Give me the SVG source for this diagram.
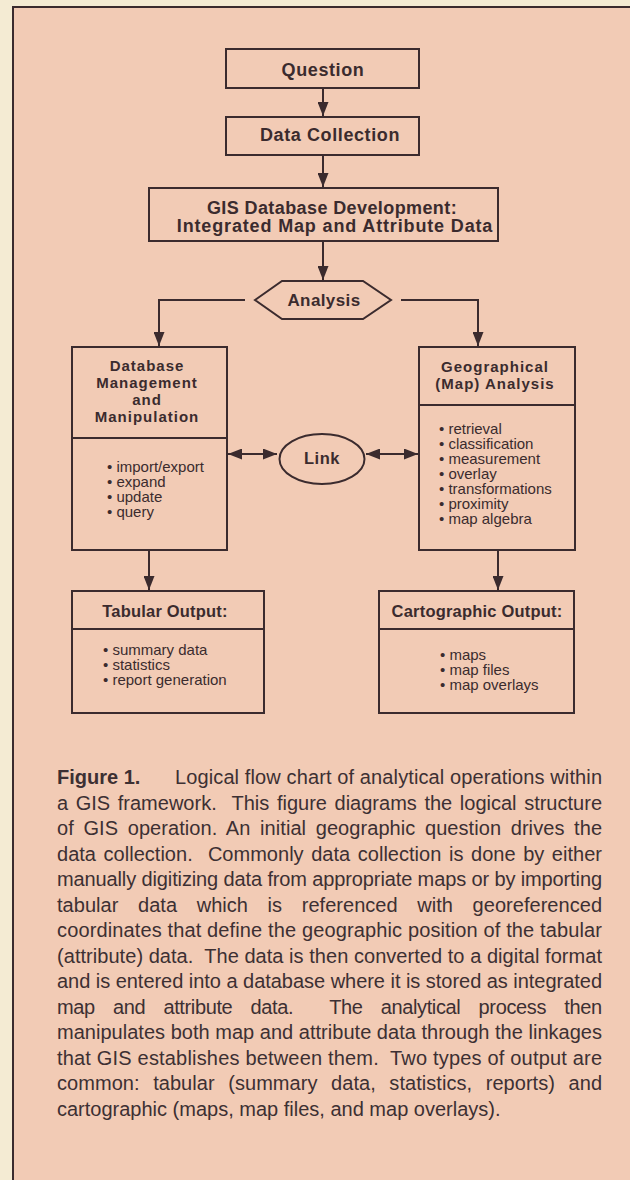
<svg xmlns="http://www.w3.org/2000/svg" width="630" height="1180" viewBox="0 0 630 1180">
<style>
.box{stroke:#3b2b2e;stroke-width:2;fill:none}
.con{stroke:#3b2b2e;stroke-width:2;fill:none}
text{fill:#3b2b2e;font-family:"Liberation Sans",Arial,Helvetica,sans-serif}
.t{font-size:18px;font-weight:bold;letter-spacing:0.6px;text-anchor:middle}
.h{font-size:15px;font-weight:bold;letter-spacing:1px;text-anchor:middle}
.o{font-size:16.5px;font-weight:bold;letter-spacing:0.2px;text-anchor:middle}
.li{font-size:15px}
.cap{font-size:20px;fill:#3d3033}
.capb{font-size:20px;font-weight:bold;fill:#3d3033}
</style>
<defs>
<marker id="ah" viewBox="0 0 14 11" markerWidth="14" markerHeight="11" refX="14" refY="5.5" markerUnits="userSpaceOnUse" orient="auto-start-reverse">
<path d="M0,0 L14,5.5 L0,11 Z" fill="#3b2b2e"/>
</marker>
</defs>
<rect x="0" y="0" width="630" height="1180" fill="#f4ebd3"/>
<rect x="13" y="7" width="640" height="1200" fill="#f2cbb5" stroke="#3b2b2e" stroke-width="2"/>

<g id="connectors">
<line class="con" x1="323" y1="88" x2="323" y2="116" marker-end="url(#ah)"/>
<line class="con" x1="323" y1="155" x2="323" y2="187" marker-end="url(#ah)"/>
<line class="con" x1="323" y1="241" x2="323" y2="280" marker-end="url(#ah)"/>
<path class="con" d="M245,300 H159 V346" marker-end="url(#ah)"/>
<path class="con" d="M401,300 H478 V346" marker-end="url(#ah)"/>
<line class="con" x1="228" y1="454" x2="277" y2="454" marker-start="url(#ah)" marker-end="url(#ah)"/>
<line class="con" x1="366" y1="454" x2="418" y2="454" marker-start="url(#ah)" marker-end="url(#ah)"/>
<line class="con" x1="149" y1="550" x2="149" y2="590" marker-end="url(#ah)"/>
<line class="con" x1="498" y1="550" x2="498" y2="590" marker-end="url(#ah)"/>
</g>

<g id="question">
<rect class="box" x="226" y="49" width="193" height="39"/>
<text class="t" x="323" y="76">Question</text>
</g>

<g id="data-collection">
<rect class="box" x="226" y="117" width="193" height="38"/>
<text class="t" x="330" y="141">Data Collection</text>
</g>

<g id="gis-database">
<rect class="box" x="149" y="188" width="349" height="53"/>
<text class="t" x="332" y="214" style="letter-spacing:0.4px">GIS Database Development:</text>
<text class="t" x="335" y="232" style="letter-spacing:0.85px">Integrated Map and Attribute Data</text>
</g>

<g id="analysis">
<polygon class="box" points="255,300 282,281 363,281 391,300 363,319 282,319"/>
<text class="t" x="324" y="306" style="font-size:17px;letter-spacing:0.4px">Analysis</text>
</g>

<g id="database-management">
<rect class="box" x="72" y="347" width="155" height="203"/>
<line class="box" x1="72" y1="438" x2="227" y2="438"/>
<text class="h" x="147" y="371">Database</text>
<text class="h" x="147" y="388">Management</text>
<text class="h" x="147" y="405">and</text>
<text class="h" x="147" y="422">Manipulation</text>
<text class="li" x="107" y="472">• import/export</text>
<text class="li" x="107" y="487">• expand</text>
<text class="li" x="107" y="502">• update</text>
<text class="li" x="107" y="517">• query</text>
</g>

<g id="link">
<ellipse class="box" cx="322" cy="459" rx="42.5" ry="25"/>
<text class="t" x="322" y="464" style="font-size:16.5px;letter-spacing:0.5px">Link</text>
</g>

<g id="geographical-analysis">
<rect class="box" x="419" y="347" width="156" height="203"/>
<line class="box" x1="419" y1="405" x2="575" y2="405"/>
<text class="h" x="495" y="372">Geographical</text>
<text class="h" x="495" y="389">(Map) Analysis</text>
<text class="li" x="439" y="434">• retrieval</text>
<text class="li" x="439" y="449">• classification</text>
<text class="li" x="439" y="464">• measurement</text>
<text class="li" x="439" y="479">• overlay</text>
<text class="li" x="439" y="494">• transformations</text>
<text class="li" x="439" y="509">• proximity</text>
<text class="li" x="439" y="524">• map algebra</text>
</g>

<g id="tabular-output">
<rect class="box" x="72" y="591" width="192" height="122"/>
<line class="box" x1="72" y1="629" x2="264" y2="629"/>
<text class="o" x="165" y="617">Tabular Output:</text>
<text class="li" x="103" y="655">• summary data</text>
<text class="li" x="103" y="670">• statistics</text>
<text class="li" x="103" y="685">• report generation</text>
</g>

<g id="cartographic-output">
<rect class="box" x="379" y="591" width="195" height="122"/>
<line class="box" x1="379" y1="629" x2="574" y2="629"/>
<text class="o" x="477" y="617">Cartographic Output:</text>
<text class="li" x="440" y="660">• maps</text>
<text class="li" x="440" y="675">• map files</text>
<text class="li" x="440" y="690">• map overlays</text>
</g>

<g id="caption">
<text class="capb" x="57" y="784">Figure 1.</text>
<text class="cap" x="175" y="784" textLength="427" lengthAdjust="spacing">Logical flow chart of analytical operations within</text>
<text class="cap" x="57" y="810" textLength="545" lengthAdjust="spacing" style="word-spacing:2px">a GIS framework.&#160; This figure diagrams the logical structure</text>
<text class="cap" x="57" y="835" textLength="545" lengthAdjust="spacing" style="word-spacing:4px">of GIS operation. An initial geographic question drives the</text>
<text class="cap" x="57" y="861" textLength="545" lengthAdjust="spacing" style="word-spacing:2px">data collection.&#160; Commonly data collection is done by either</text>
<text class="cap" x="57" y="886" textLength="545" lengthAdjust="spacing">manually digitizing data from appropriate maps or by importing</text>
<text class="cap" x="57" y="912" textLength="545" lengthAdjust="spacing" style="word-spacing:14px">tabular data which is referenced with georeferenced</text>
<text class="cap" x="57" y="937" textLength="545" lengthAdjust="spacing">coordinates that define the geographic position of the tabular</text>
<text class="cap" x="57" y="963" textLength="545" lengthAdjust="spacing">(attribute) data.&#160; The data is then converted to a digital format</text>
<text class="cap" x="57" y="988" textLength="545" lengthAdjust="spacing">and is entered into a database where it is stored as integrated</text>
<text class="cap" x="57" y="1014" textLength="545" lengthAdjust="spacing" style="word-spacing:13px">map and attribute data.&#160; The analytical process then</text>
<text class="cap" x="57" y="1039" textLength="545" lengthAdjust="spacing">manipulates both map and attribute data through the linkages</text>
<text class="cap" x="57" y="1065" textLength="545" lengthAdjust="spacing">that GIS establishes between them.&#160; Two types of output are</text>
<text class="cap" x="57" y="1090" textLength="545" lengthAdjust="spacing" style="word-spacing:8px">common: tabular (summary data, statistics, reports) and</text>
<text class="cap" x="57" y="1116">cartographic (maps, map files, and map overlays).</text>
</g>
</svg>
